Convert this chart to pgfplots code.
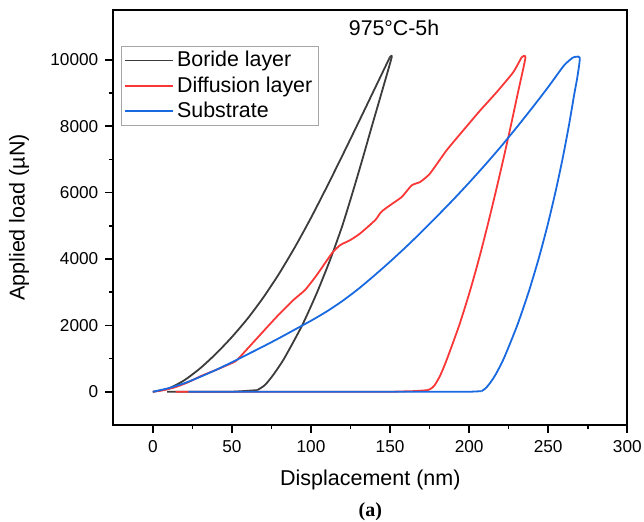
\documentclass[border=0pt]{standalone}
\usepackage{fontspec}
\setmainfont{Liberation Sans}
\newfontfamily\timesfont{Liberation Serif}
\usepackage{pgfplots}
\pgfplotsset{compat=1.18}

\definecolor{boride}{RGB}{60,60,60}
\definecolor{diffred}{RGB}{250,55,55}
\definecolor{subblue}{RGB}{25,105,225}

\begin{document}
\begin{tikzpicture}
\useasboundingbox (-56.65pt,-48.5pt) rectangle (265.35pt,212.5pt);
\begin{axis}[
  name=ax,
  scale only axis, width=257pt, height=207.5pt,
  xmin=-25, xmax=300, ymin=-1000, ymax=11500,
  xtick={0,50,...,300}, ytick={0,2000,...,10000},
  minor x tick num=1, minor y tick num=1,
  scaled y ticks=false,
  tick pos=left, tick align=outside,
  major tick length=4pt, minor tick length=2.25pt,
  axis line style={line width=1pt},
  every tick/.style={black, line width=0.8pt},
  /pgf/number format/assume math mode=true,
  /pgf/number format/set thousands separator={},
  ticklabel style={font=\fontsize{8.6}{10}\selectfont},
  xlabel={Displacement (nm)}, ylabel={Applied load (µN)},
  label style={font=\fontsize{10.75}{12}\selectfont},
  xlabel style={at={(axis description cs:0.5,-0.133)}, anchor=center},
  ylabel style={at={(axis description cs:-0.1835,0.5)}, anchor=center},
  legend style={at={(axis description cs:0.0144,0.914)}, anchor=north west,
    draw=gray!70, line width=0.6pt, font=\fontsize{10.7}{12}\selectfont,
    inner xsep=1.5pt, inner ysep=1pt, row sep=0.4pt,
    nodes={inner sep=1.5pt}},
  legend cell align=left,
  legend image code/.code={\draw[#1, line width=0.9pt] (0pt,0pt) -- (24pt,0pt);},
  every axis plot/.append style={line width=0.9pt, line join=round},
]
% Boride layer
\addplot[boride, smooth, tension=0.4] coordinates {
  (0,0) (10,100) (20,350) (30,710) (40,1150) (50,1650) (60,2210)
  (70,2850) (80,3570) (90,4370) (100,5240) (110,6170) (120,7130)
  (130,8110) (140,9100) (149.8,10070)
};
\addlegendentry{Boride layer}
\addplot[boride, smooth, tension=0.4, forget plot] coordinates {
  (149.8,10070) (151.0,10070) (144.6,9000) (138.5,8000) (132.5,7000)
  (126.3,6000) (119.8,5000) (112.3,4000) (103.9,3000) (94.4,2000)
  (83,1000) (76,500) (70.8,200) (66,50)
};
\addplot[boride, forget plot] coordinates {(66,50) (56.4,18) (50,0) (9.1,0)};
% Diffusion layer
\addplot[diffred, smooth, tension=0.3] coordinates {
  (0,0) (7,50) (14.3,140) (22,280) (30.1,468) (41,680) (52.2,918)
  (57.4,1170) (68.9,1770) (78.5,2268) (89.0,2769) (96.3,3069)
  (103.7,3519) (113.2,4170) (118.5,4419) (124.8,4569) (131.1,4770)
  (140.6,5169) (143.6,5370) (145.7,5469) (150,5619) (157.4,5868)
  (163.7,6220) (169,6319) (175.2,6571) (185.7,7270) (196.2,7870)
  (206.9,8470) (217.3,9019) (227.8,9619) (233.1,10069)
};
\addlegendentry{Diffusion layer}
\addplot[diffred, smooth, tension=0.4, forget plot] coordinates {
  (233.1,10069) (235.6,10069) (230.8,9000) (226.3,8000) (221.6,7000)
  (216.7,6000) (211.6,5000) (206.2,4000) (200.3,3000) (193.7,2000)
  (186.1,1000) (181.8,500) (178.2,200) (176,100) (173.5,50) (165,20)
};
\addplot[diffred, forget plot] coordinates {(165,20) (150,0) (14.4,0)};
% Substrate
\addplot[subblue, smooth, tension=0.4] coordinates {
  (0,0) (10,110) (20,260) (30,450) (40,660) (50,890) (60,1130)
  (70,1370) (80,1620) (90,1880) (100,2140) (110,2420) (120,2740)
  (130,3100) (140,3500) (150,3920) (160,4360) (170,4820) (180,5300)
  (190,5790) (200,6300) (210,6830) (220,7380) (230,7960) (240,8560)
  (250,9180) (260,9830) (265.6,10069)
};
\addlegendentry{Substrate}
\addplot[subblue, smooth, tension=0.4, forget plot] coordinates {
  (265.6,10069) (269.9,10069) (268.5,9500) (266.6,9000) (263.0,8000)
  (259.0,7000) (254.5,6000) (249.5,5000) (243.9,4000) (237.6,3000)
  (230.4,2000) (221.9,1000) (216.5,500) (213,250) (210.3,100) (207.8,18)
};
\addplot[subblue, forget plot] coordinates {(207.8,18) (200,0) (22.5,0)};
\node[font=\fontsize{10.65}{12}\selectfont] at (axis cs:152.5,10960) {975°C-5h};
\end{axis}
\node[font=\timesfont\bfseries\fontsize{10}{12}\selectfont] at ([yshift=-43.35pt]ax.south) {(a)};
\end{tikzpicture}
\end{document}
